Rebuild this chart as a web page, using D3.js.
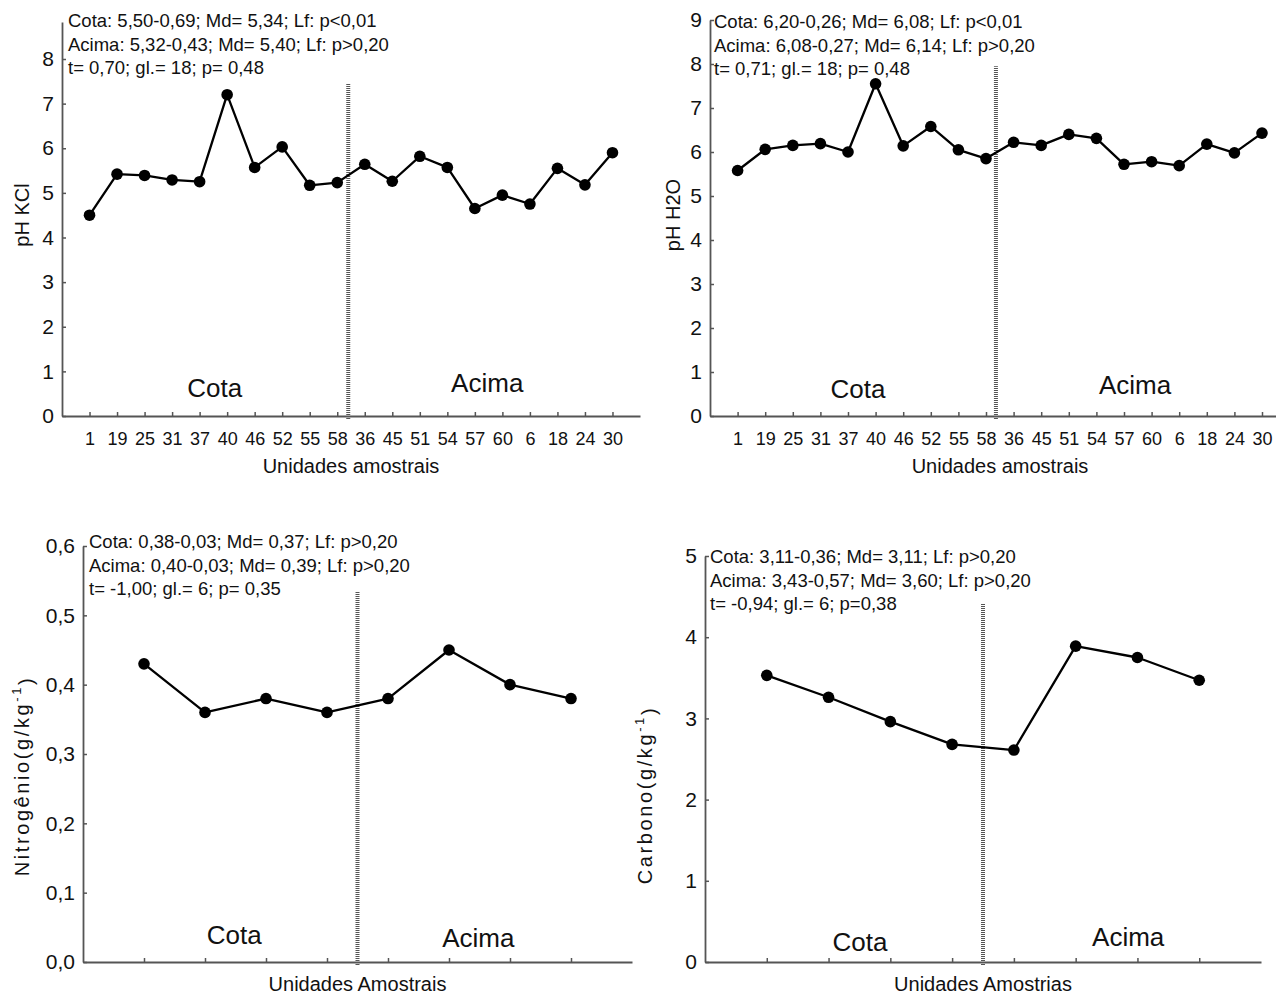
<!DOCTYPE html>
<html><head><meta charset="utf-8">
<script src="https://cdn.jsdelivr.net/npm/d3@7"></script>
<style>
body{margin:0;background:#fff}
text{font-family:"Liberation Sans",Arial,Helvetica,sans-serif;fill:#111}
</style>
</head><body>
<svg id="chart" width="1276" height="994"></svg>
<script>
// ---------------- data ----------------
const samplesPH = ["1","19","25","31","37","40","46","52","55","58","36","45","51","54","57","60","6","18","24","30"];
const phKCl = [4.50,5.42,5.39,5.29,5.25,7.20,5.57,6.03,5.17,5.23, 5.64,5.26,5.82,5.57,4.65,4.95,4.75,5.55,5.18,5.90];
const phH2O = [5.58,6.06,6.15,6.19,6.00,7.55,6.14,6.58,6.05,5.85, 6.22,6.15,6.40,6.31,5.72,5.78,5.69,6.18,5.98,6.43];
const samplesNC = ["","","","","","","",""];
const nitrogenio = [0.43,0.36,0.38,0.36, 0.38,0.45,0.40,0.38];
const carbono = [3.53,3.26,2.96,2.68, 2.61,3.89,3.75,3.47];

const yTicksKCl = [0,1,2,3,4,5,6,7,8];
const yTicksH2O = [0,1,2,3,4,5,6,7,8,9];
const yTicksN = [0,0.1,0.2,0.3,0.4,0.5,0.6];
const yTicksC = [0,1,2,3,4,5];

const statsKCl = ["Cota: 5,50-0,69; Md= 5,34; Lf: p<0,01","Acima: 5,32-0,43; Md= 5,40; Lf: p>0,20","t= 0,70; gl.= 18; p= 0,48"];
const statsH2O = ["Cota: 6,20-0,26; Md= 6,08; Lf: p<0,01","Acima: 6,08-0,27; Md= 6,14; Lf: p>0,20","t= 0,71; gl.= 18; p= 0,48"];
const statsN = ["Cota: 0,38-0,03; Md= 0,37; Lf: p>0,20","Acima: 0,40-0,03; Md= 0,39; Lf: p>0,20","t= -1,00; gl.= 6; p= 0,35"];
const statsC = ["Cota: 3,11-0,36; Md= 3,11; Lf: p>0,20","Acima: 3,43-0,57; Md= 3,60; Lf: p>0,20","t= -0,94; gl.= 6; p=0,38"];

const groupLabels = ["Cota","Acima"];

// ---------------- layout ----------------
const panels = [
  {cats:samplesPH, vals:phKCl, yTicks:yTicksKCl, fmt:d=>String(d), stats:statsKCl,
   yTitle:"pH KCl", sup:null, xTitle:"Unidades amostrais",
   x0:62, x1:640, yBase:416, yMaxTick:8, yMaxPx:59, axisTopVal:8.83,
   dividerAt:9.4, dividerTop:7.44,
   cota:[4.55,0.42], acima:[14.45,0.53], statsX:68, statsY:27, titleX:22, titleY:215, xTitleY:473, xPad:16, ls:0},
  {cats:samplesPH, vals:phH2O, yTicks:yTicksH2O, fmt:d=>String(d), stats:statsH2O,
   yTitle:"pH H2O", sup:null, xTitle:"Unidades amostrais",
   x0:710, x1:1289.6, yBase:416, yMaxTick:9, yMaxPx:20, axisTopVal:9,
   dividerAt:9.36, dividerTop:7.95,
   cota:[4.36,0.42], acima:[14.4,0.5], statsX:714, statsY:28, titleX:673, titleY:215, xTitleY:473, xPad:16, ls:0},
  {cats:samplesNC, vals:nitrogenio, yTicks:yTicksN, fmt:d=>d.toFixed(1).replace(".",","), stats:statsN,
   yTitle:"Nitrogênio(g/kg", sup:"-1", xTitle:"Unidades Amostrais",
   x0:83, x1:632, yBase:962, yMaxTick:0.6, yMaxPx:546, axisTopVal:0.6,
   dividerAt:3.5, dividerTop:0.534,
   cota:[1.48,0.026], acima:[5.48,0.021], statsX:89, statsY:548, titleX:22, titleY:776, xTitleY:991, xPad:10, ls:2.6},
  {cats:samplesNC, vals:carbono, yTicks:yTicksC, fmt:d=>String(d), stats:statsC,
   yTitle:"Carbono(g/kg", sup:"-1", xTitle:"Unidades Amostrias",
   x0:705, x1:1261, yBase:962, yMaxTick:5, yMaxPx:556, axisTopVal:5,
   dividerAt:3.5, dividerTop:4.42,
   cota:[1.51,0.135], acima:[5.85,0.197], statsX:710, statsY:563, titleX:645, titleY:795, xTitleY:991, xPad:10, ls:2.6}
];

const svg = d3.select("#chart");
const axisColor = "#555";

panels.forEach(p => {
  const n = p.vals.length;
  const g = svg.append("g");
  const x = d3.scaleLinear().domain([-1, n]).range([p.x0, p.x1]);
  const pxPerUnit = (p.yBase - p.yMaxPx) / p.yMaxTick;
  const y = d3.scaleLinear().domain([0, p.axisTopVal]).range([p.yBase, p.yBase - p.axisTopVal * pxPerUnit]);

  // y axis
  const ya = g.append("g").attr("transform", `translate(${p.x0},0)`)
    .call(d3.axisLeft(y).tickValues(p.yTicks).tickFormat(p.fmt).tickSizeInner(-4).tickSizeOuter(0).tickPadding(8));
  ya.select(".domain").attr("stroke", axisColor).attr("stroke-width", 1.8);
  ya.selectAll(".tick line").attr("stroke", axisColor).attr("stroke-width", 1.5);
  ya.selectAll(".tick text").style("font-size", "21px").attr("fill", "#111");

  // x axis
  const xa = g.append("g").attr("transform", `translate(0,${p.yBase})`)
    .call(d3.axisBottom(x).tickValues(d3.range(n)).tickFormat(i => p.cats[i]).tickSizeInner(-4).tickSizeOuter(0).tickPadding(p.xPad));
  xa.select(".domain").attr("stroke", axisColor).attr("stroke-width", 1.8);
  xa.selectAll(".tick line").attr("stroke", axisColor).attr("stroke-width", 1.5);
  xa.selectAll(".tick text").style("font-size", "18px").attr("fill", "#111");

  // divider
  g.append("line")
    .attr("x1", x(p.dividerAt)).attr("x2", x(p.dividerAt))
    .attr("y1", y(0) + 3).attr("y2", y(p.dividerTop))
    .attr("stroke", "#555").attr("stroke-width", 4).attr("stroke-dasharray", "1,1");

  // line + points
  const line = d3.line().x((d, i) => x(i)).y(d => y(d));
  g.append("path").datum(p.vals).attr("d", line)
    .attr("fill", "none").attr("stroke", "#000").attr("stroke-width", 2.3).attr("stroke-linejoin", "round");
  g.selectAll("circle.pt").data(p.vals).join("circle").attr("class", "pt")
    .attr("cx", (d, i) => x(i)).attr("cy", d => y(d)).attr("r", 5.8).attr("fill", "#000");

  // group labels
  [p.cota, p.acima].forEach((pos, k) => {
    g.append("text").attr("x", x(pos[0])).attr("y", y(pos[1]))
      .attr("text-anchor", "middle").style("font-size", "26px").text(groupLabels[k]);
  });

  // stats
  p.stats.forEach((s, k) => {
    g.append("text").attr("x", p.statsX).attr("y", p.statsY + k * 23.5)
      .style("font-size", "18.5px").text(s);
  });

  // axis titles
  g.append("text").attr("x", (p.x0 + Math.min(p.x1, 1276)) / 2 + (p.x1 > 1276 ? 7 : 0)).attr("y", p.xTitleY)
    .attr("text-anchor", "middle").style("font-size", "20px").text(p.xTitle);
  const yt = g.append("text").attr("transform", `translate(${p.titleX},${p.titleY}) rotate(-90)`)
    .attr("text-anchor", "middle").attr("dy", "0.35em").style("font-size", "20px")
    .style("letter-spacing", p.ls + "px");
  yt.append("tspan").text(p.yTitle);
  if (p.sup) {
    yt.append("tspan").attr("dy", "-0.6em").style("font-size", "13px").text(p.sup);
    yt.append("tspan").attr("dy", "0.6em").text(")");
  }
});
</script>
</body></html>
